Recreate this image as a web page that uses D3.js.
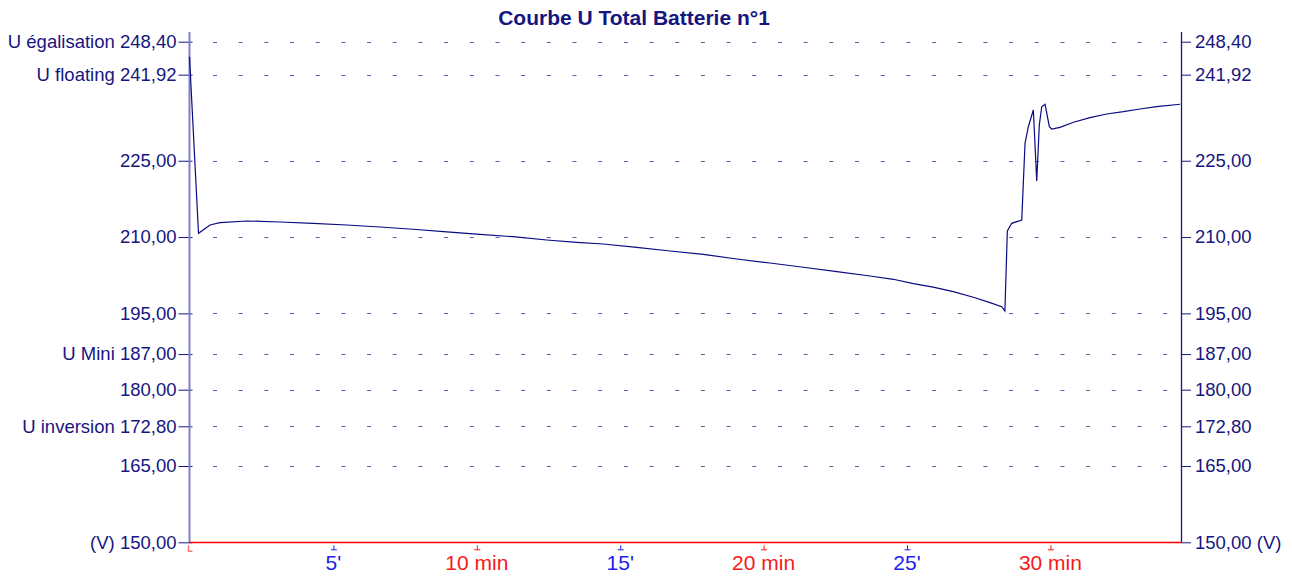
<!DOCTYPE html>
<html><head><meta charset="utf-8">
<script src="https://cdn.jsdelivr.net/npm/d3@7"></script>
<style>
body{margin:0;background:#fff;}
svg{display:block;font-family:"Liberation Sans",Arial,sans-serif;}
</style></head>
<body><svg id="c" width="1292" height="578"></svg>
<script>
const title = "Courbe U Total Batterie n°1";
const times = [0, 0.314, 0.715, 1.063, 1.994, 3.155, 4.306, 5.481, 6.642, 7.793, 8.968, 10.129, 11.28, 12.455, 13.50, 14.428, 15.593, 16.754, 17.915, 19.08, 20.24, 21.40, 22.57, 23.73, 24.54, 25.24, 25.93, 26.63, 27.33, 27.91, 28.32, 28.43, 28.515, 28.668, 29.017, 29.132, 29.247, 29.422, 29.54, 29.63, 29.714, 29.83, 29.98, 30.06, 30.35, 30.82, 31.40, 31.98, 32.56, 33.14, 33.72, 34.54];
const volts = [245.45, 210.74, 212.37, 212.82, 213.16, 212.96, 212.70, 212.37, 211.98, 211.53, 211.0, 210.54, 210.07, 209.42, 208.97, 208.64, 207.99, 207.26, 206.61, 205.69, 204.90, 204.06, 203.19, 202.35, 201.70, 200.85, 200.15, 199.26, 198.16, 197.10, 196.31, 195.45, 211.19, 212.70, 213.35, 228.43, 231.69, 234.97, 221.02, 232.03, 235.62, 236.10, 231.69, 231.24, 231.57, 232.56, 233.46, 234.19, 234.64, 235.17, 235.62, 236.10];
const yTicks = [248.40, 241.92, 225, 210, 195, 187, 180, 172.8, 165, 150];
const yPrefix = ["U égalisation", "U floating", "", "", "", "U Mini", "", "U inversion", "", "(V)"];
const xTicks = [5, 10, 15, 20, 25, 30];
const xLabels = ["5'", "10 min", "15'", "20 min", "25'", "30 min"];
const xMax = 34.57, yMin = 150, yMax = 248.4;

const navy = "#161680", lineCol = "#0a0a82", gridCol = "#5c5cae";
const FF = "Liberation Sans, Arial, sans-serif";
const svg = d3.select("#c");
const L = 189.5, R = 1181, T = 41.7, B = 542.3;
const x = d3.scaleLinear().domain([0, xMax]).range([L, R]);
const y = d3.scaleLinear().domain([yMin, yMax]).range([B, T]);
const fmt = v => d3.format(".2f")(v).replace(".", ",");

// title
svg.append("text").attr("x", 634).attr("y", 25).attr("text-anchor", "middle")
  .attr("font-weight", "bold").attr("font-size", 21).attr("fill", navy).text(title);

// grid dashes
svg.append("g").selectAll("line").data(yTicks.filter(v => v !== yMin)).join("line")
  .attr("x1", 213).attr("x2", 1168)
  .attr("y1", d => Math.round(y(d)) + 0.5).attr("y2", d => Math.round(y(d)) + 0.5)
  .attr("stroke", gridCol).attr("stroke-width", 1).attr("stroke-dasharray", "4 21.68");

// left axis
const gl = svg.append("g").attr("transform", `translate(${L},0)`)
  .call(d3.axisLeft(y).tickValues(yTicks).tickSize(11).tickPadding(3)
    .tickFormat((d, i) => (yPrefix[i] ? yPrefix[i] + " " : "") + fmt(d)));
gl.select(".domain").remove();
gl.selectAll(".tick line").attr("x1", 3).attr("stroke", navy);
gl.selectAll(".tick text").attr("fill", navy).attr("font-size", 18.5).attr("font-family", FF).attr("x", -13);
svg.append("line").attr("x1", L).attr("x2", L).attr("y1", 32).attr("y2", B)
  .attr("stroke", "#7f7fc4").attr("stroke-width", 2);

// right axis
const gr = svg.append("g").attr("transform", `translate(${R},0)`)
  .call(d3.axisRight(y).tickValues(yTicks).tickSize(10).tickPadding(4)
    .tickFormat(d => fmt(d) + (d === yMin ? " (V)" : "")));
gr.select(".domain").remove();
gr.selectAll(".tick line").attr("stroke", navy);
gr.selectAll(".tick text").attr("fill", navy).attr("font-size", 18.5).attr("font-family", FF);
svg.append("line").attr("x1", R + 0.5).attr("x2", R + 0.5).attr("y1", 32).attr("y2", B)
  .attr("stroke", navy).attr("stroke-width", 1.3);

// bottom axis
const gb = svg.append("g").attr("transform", `translate(0,${B})`)
  .call(d3.axisBottom(x).tickValues(xTicks).tickSize(0).tickPadding(0)
    .tickFormat((d, i) => xLabels[i]));
gb.select(".domain").remove();
gb.selectAll(".tick text").attr("y", 28).attr("dy", 0).attr("font-size", 21)
  .attr("font-family", FF)
  .attr("fill", (d, i) => xLabels[i].includes("min") ? "#f41a1a" : "#1e1ef0");
gb.selectAll(".tick").append("path")
  .attr("d", "M0.5,3V7.5M-2.5,7.5H3.5").attr("fill", "none")
  .attr("stroke", (d, i) => xLabels[i].includes("min") ? "#f41a1a" : "#1e1ef0").attr("stroke-width", 1);
svg.append("path").attr("d", `M${L - 1},${B + 3}V${B + 9}H${L + 3}`).attr("fill", "none")
  .attr("stroke", "#f77").attr("stroke-width", 1.5);
svg.append("line").attr("x1", L).attr("x2", R).attr("y1", Math.round(B) + 0.5).attr("y2", Math.round(B) + 0.5)
  .attr("stroke", "#ff0000").attr("stroke-width", 1.3);

// data line
const pts = times.map((t, i) => [t, volts[i]]);
svg.append("path").datum(pts)
  .attr("d", d3.line().x(d => x(d[0])).y(d => y(d[1])))
  .attr("fill", "none").attr("stroke", lineCol).attr("stroke-width", 1.2);
</script></body></html>
